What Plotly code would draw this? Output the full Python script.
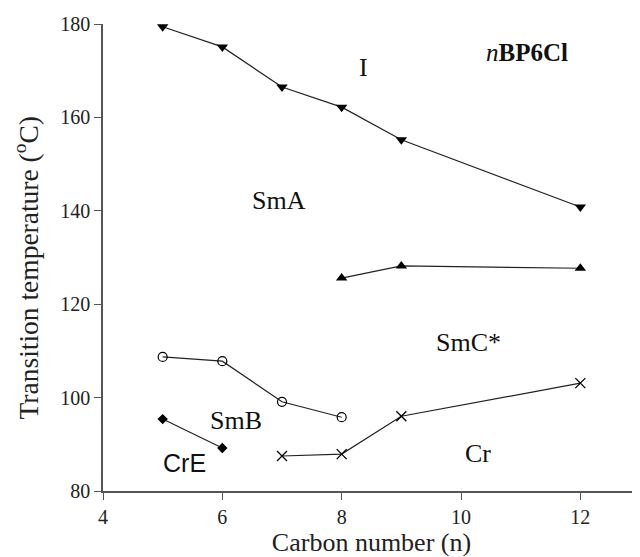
import plotly.graph_objects as go

n_iso = [5, 6, 7, 8, 9, 12]
t_iso = [179.4, 175.1, 166.5, 162.2, 155.2, 140.8]

n_smc = [8, 9, 12]
t_smc = [125.6, 128.2, 127.7]

n_smb = [5, 6, 7, 8]
t_smb = [108.7, 107.8, 99.1, 95.8]

n_cre = [5, 6]
t_cre = [95.4, 89.2]

n_cr = [7, 8, 9, 12]
t_cr = [87.5, 87.9, 96.0, 103.1]

x_ticks = [4, 6, 8, 10, 12]
y_ticks = [80, 100, 120, 140, 160, 180]

phase_labels = ["I", "SmA", "SmC*", "SmB", "Cr"]
phase_x = [8.37, 6.95, 10.12, 6.23, 10.28]
phase_y = [170.6, 142.3, 111.7, 95.2, 88.1]

serif = "Liberation Serif, Times New Roman, serif"
line = dict(color="#222222", width=1.2)

fig = go.Figure()
fig.add_trace(go.Scatter(x=n_iso, y=t_iso, mode="lines+markers", line=line,
                         marker=dict(symbol="triangle-down", size=10, color="black")))
fig.add_trace(go.Scatter(x=n_smc, y=t_smc, mode="lines+markers", line=line,
                         marker=dict(symbol="triangle-up", size=10, color="black")))
fig.add_trace(go.Scatter(x=n_smb, y=t_smb, mode="lines+markers", line=line,
                         marker=dict(symbol="circle-open", size=9, color="black",
                                     line=dict(width=1.2, color="black"))))
fig.add_trace(go.Scatter(x=n_cre, y=t_cre, mode="lines+markers", line=line,
                         marker=dict(symbol="diamond", size=8, color="black")))
fig.add_trace(go.Scatter(x=n_cr, y=t_cr, mode="lines+markers", line=line,
                         marker=dict(symbol="x-thin-open", size=10, color="black",
                                     line=dict(width=1.3, color="black"))))

for lab, px, py in zip(phase_labels, phase_x, phase_y):
    fig.add_annotation(x=px, y=py, text=lab, showarrow=False,
                       font=dict(family=serif, size=26, color="#111111"))
fig.add_annotation(x=5.37, y=86.0, text="CrE", showarrow=False,
                   font=dict(family="Liberation Sans, Arial, sans-serif", size=25, color="#111111"))
fig.add_annotation(x=11.1, y=173.8, text="<i>n</i><b>BP6Cl</b>", showarrow=False,
                   font=dict(family=serif, size=25, color="#111111"))

# y-axis title as a rotated annotation for precise placement
fig.add_annotation(xref="paper", yref="paper", x=-0.142, y=0.478,
                   xanchor="center", yanchor="middle", textangle=-90,
                   text="Transition temperature (<sup>o</sup>C)", showarrow=False,
                   font=dict(family=serif, size=27.5, color="#222222"))

fig.update_layout(
    width=632, height=549,
    margin=dict(l=95, r=0, t=16, b=66),
    plot_bgcolor="white", paper_bgcolor="white",
    showlegend=False,
    font=dict(family=serif, size=20, color="#222222"),
)
fig.update_xaxes(range=[4, 13], tickvals=x_ticks, ticks="outside", ticklen=7,
                 showline=True, linecolor="#555555", linewidth=1.5, showgrid=False,
                 zeroline=False, tickcolor="#555555", automargin=False,
                 title=dict(text="Carbon number (n)", font=dict(size=26), standoff=2))
fig.update_yaxes(range=[80, 180], tickvals=y_ticks, ticks="outside", ticklen=7,
                 showline=True, linecolor="#555555", linewidth=1.5, showgrid=False,
                 zeroline=False, tickcolor="#555555", automargin=False)

fig.write_html("out.html")
